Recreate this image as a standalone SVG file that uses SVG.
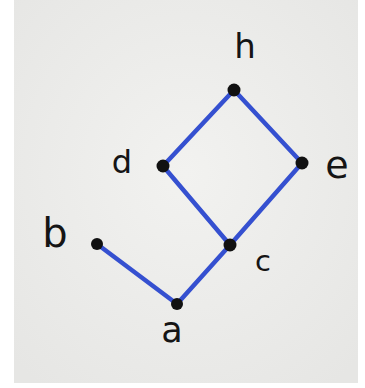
<svg xmlns="http://www.w3.org/2000/svg" width="365" height="388" viewBox="0 0 365 388">
<defs>
<radialGradient id="paper" cx="0.5" cy="0.45" r="0.7">
<stop offset="0" stop-color="#f2f2f0"/>
<stop offset="1" stop-color="#e6e6e4"/>
</radialGradient>
<style>
.edge{stroke:#3550d0;stroke-width:4.5;stroke-linecap:round;fill:none}
.dot{fill:#111}
.lbl{font-family:"DejaVu Sans",sans-serif;fill:#151515;text-anchor:middle}
</style>
</defs>
<rect x="0" y="0" width="365" height="388" fill="#ffffff"/>
<rect x="14" y="0" width="344" height="383" fill="url(#paper)"/>
<g id="connectors">
<line class="edge" x1="234" y1="90" x2="163" y2="166"/>
<line class="edge" x1="234" y1="90" x2="302" y2="163"/>
<line class="edge" x1="163" y1="166" x2="230" y2="245"/>
<line class="edge" x1="302" y1="163" x2="230" y2="245"/>
<line class="edge" x1="230" y1="245" x2="177" y2="304"/>
<line class="edge" x1="97" y1="244" x2="177" y2="304"/>
</g>
<g id="node-h"><circle class="dot" cx="234" cy="90" r="6.5"/><text class="lbl" x="245" y="58" font-size="34">h</text></g>
<g id="node-d"><circle class="dot" cx="163" cy="166" r="6.5"/><text class="lbl" x="122" y="173" font-size="32">d</text></g>
<g id="node-e"><circle class="dot" cx="302" cy="163" r="6.5"/><text class="lbl" x="337" y="178" font-size="38">e</text></g>
<g id="node-b"><circle class="dot" cx="97" cy="244" r="6"/><text class="lbl" x="55" y="247" font-size="40">b</text></g>
<g id="node-c"><circle class="dot" cx="230" cy="245" r="6.5"/><text class="lbl" x="263" y="271" font-size="29">c</text></g>
<g id="node-a"><circle class="dot" cx="177" cy="304" r="6"/><text class="lbl" x="172" y="342" font-size="35">a</text></g>
</svg>
